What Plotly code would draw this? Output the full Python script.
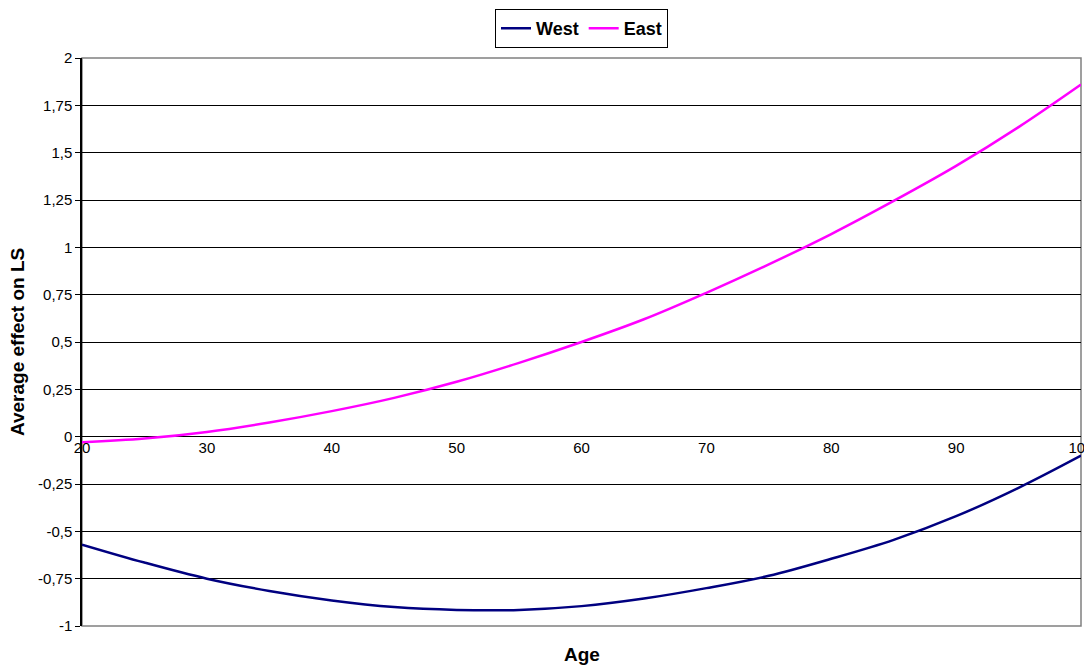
import plotly.graph_objects as go

ages = [20, 25, 30, 35, 40, 45, 50, 55, 60, 65, 70, 75, 80, 85, 90, 95, 100]
west = [-0.57, -0.665, -0.75, -0.815, -0.865, -0.9, -0.915, -0.915, -0.895,
        -0.855, -0.80, -0.735, -0.645, -0.545, -0.42, -0.27, -0.10]
east = [-0.03, -0.01, 0.025, 0.075, 0.135, 0.205, 0.29, 0.39, 0.5,
        0.62, 0.76, 0.91, 1.07, 1.245, 1.43, 1.635, 1.86]

y_ticks = [-1, -0.75, -0.5, -0.25, 0, 0.25, 0.5, 0.75, 1, 1.25, 1.5, 1.75, 2]
y_labels = ["-1", "-0,75", "-0,5", "-0,25", "0", "0,25", "0,5", "0,75",
            "1", "1,25", "1,5", "1,75", "2"]
x_ticks = [20, 30, 40, 50, 60, 70, 80, 90, 100]

font = "Liberation Sans, Arial, sans-serif"

fig = go.Figure()
fig.add_trace(go.Scatter(x=ages, y=west, mode="lines", name="West",
                         line=dict(color="#000080", width=2.5, shape="spline")))
fig.add_trace(go.Scatter(x=ages, y=east, mode="lines", name="East",
                         line=dict(color="#FF00FF", width=2.5, shape="spline")))

# page body has an 8px default margin, so the figure is sized to fit the window
fig.update_layout(
    width=1084, height=659,
    margin=dict(l=74, r=11, t=50, b=41, autoexpand=False),
    paper_bgcolor="white", plot_bgcolor="white",
    font=dict(family=font, size=15, color="black"),
    showlegend=True,
    legend=dict(orientation="h", x=0.5, xanchor="center", y=1.086, yanchor="top",
                bordercolor="black", borderwidth=1,
                font=dict(size=18, family=font, weight="bold"),
                itemwidth=30, tracegroupgap=0),
    xaxis=dict(range=[20, 100], tickvals=x_ticks, ticktext=[str(v) for v in x_ticks],
               showgrid=False, zeroline=False, showline=False, automargin=False,
               anchor="free", position=1/3, ticks="", tickfont=dict(size=15),
               ticklabeloverflow="allow"),
    yaxis=dict(range=[-1, 2], tickvals=y_ticks, ticktext=y_labels, automargin=False,
               showgrid=True, gridcolor="black", gridwidth=1, zeroline=False,
               showline=True, linecolor="black", linewidth=1.5,
               ticks="outside", ticklen=5, tickcolor="black", tickfont=dict(size=15)),
)

# plot area border (gray), like the Excel plot area frame
fig.add_shape(type="rect", xref="paper", yref="paper", x0=0, x1=1, y0=0, y1=1,
              line=dict(color="#808080", width=1.5), layer="below")

fig.add_annotation(text="<b>Age</b>", xref="paper", yref="paper", x=0.5, y=-0.051,
                   xanchor="center", yanchor="middle", showarrow=False,
                   font=dict(size=19, family=font))
fig.add_annotation(text="<b>Average effect on LS</b>", xref="paper", yref="paper",
                   x=-0.065, y=0.5, xanchor="center", yanchor="middle", textangle=-90,
                   showarrow=False, font=dict(size=19, family=font))

fig.write_html("out.html")
